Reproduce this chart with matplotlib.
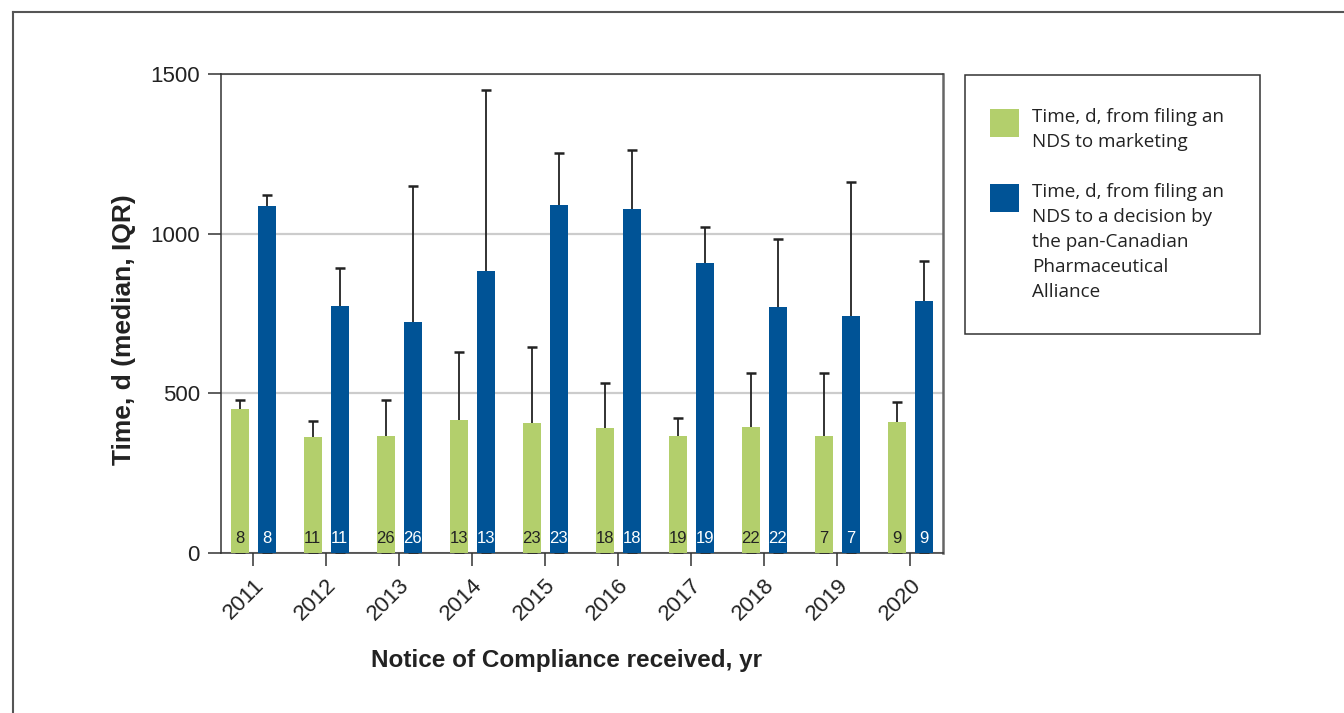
import numpy as np
import matplotlib
matplotlib.use("Agg")
from matplotlib import pyplot as plt
from matplotlib.patches import Rectangle
from matplotlib.lines import Line2D
from matplotlib.transforms import ScaledTranslation

plt.rcParams['font.family'] = ['Liberation Sans', 'DejaVu Sans']

# 中位数与上四分位数（天）
years = ["2011", "2012", "2013", "2014", "2015", "2016", "2017", "2018", "2019", "2020"]
n_drugs = [8, 11, 26, 13, 23, 18, 19, 22, 7, 9]
market_median = [450, 362, 367, 416, 407, 391, 365, 395, 365, 411]
market_q3 = [480, 413, 478, 629, 645, 532, 423, 563, 565, 473]
pcpa_median = [1087, 773, 723, 883, 1089, 1076, 907, 771, 742, 789]
pcpa_q3 = [1122, 893, 1149, 1450, 1254, 1263, 1020, 983, 1162, 915]

labels = ["Time, d, from filing an\nNDS to marketing",
          "Time, d, from filing an\nNDS to a decision by\nthe pan-Canadian\nPharmaceutical\nAlliance"]
green = "#b3cf6c"
blue = "#005396"

W, H = 1344, 713
fig = plt.figure(figsize=(W / 100, H / 100), dpi=100)
ax = fig.add_axes([221 / W, 1 - 553 / H, (943 - 221) / W, (553 - 74) / H])

x = np.arange(len(years))
w = 0.247
off = 0.185

for xs, med, q3, col in [(x - off, market_median, market_q3, green),
                         (x + off, pcpa_median, pcpa_q3, blue)]:
    med = np.array(med)
    q3 = np.array(q3)
    ax.bar(xs, med, width=w, color=col, zorder=3)
    # 误差线从0画起，被柱子盖住，只露出上半段
    ax.errorbar(xs, med, yerr=[med, q3 - med], fmt="none", ecolor="#222222",
                elinewidth=1.3, capsize=3.6, capthick=1.8, zorder=2)

# 柱底的样本数
tr = ax.get_xaxis_transform()
for i, n in enumerate(n_drugs):
    ax.text(x[i] - off, 0.031, str(n), transform=tr, ha="center", va="center",
            fontsize=12, color="#222222", zorder=4)
    ax.text(x[i] + off, 0.031, str(n), transform=tr, ha="center", va="center",
            fontsize=12, color="white", zorder=4)

ax.set_xlim(-0.44, 9.45)
ax.set_ylim(0, 1500)
ax.set_yticks([0, 500, 1000, 1500])
ax.set_xticks(x)
ax.set_xticklabels(years, rotation=45, ha="right", va="top", rotation_mode="anchor")
for lbl in ax.get_xticklabels():
    lbl.set_transform(lbl.get_transform() + ScaledTranslation(7 / 100, 0, fig.dpi_scale_trans))
ax.tick_params(axis="both", length=9.4, width=1.1, color="#333333",
               labelsize=16, labelcolor="#222222")
ax.tick_params(axis="y", pad=5.8)
ax.tick_params(axis="x", pad=6.5)
ax.yaxis.grid(True, color="#cccccc", linewidth=1.6, zorder=0)
ax.set_axisbelow(True)
for s in ax.spines.values():
    s.set_color("#333333")
    s.set_linewidth(1.1)
ax.spines["right"].set_color("#666666")
ax.spines["right"].set_linewidth(1.8)

ax.set_ylabel("Time, d (median, IQR)", fontsize=19, fontweight="bold", color="#222222")
ax.yaxis.set_label_coords(-0.118, 0.466)
ax.set_xlabel("Notice of Compliance received, yr", fontsize=17.5, fontweight="bold", color="#222222")
ax.xaxis.set_label_coords(0.479, -0.2)

# 图例框
fig.add_artist(Rectangle((965 / W, 1 - 334 / H), 295 / W, 259 / H, transform=fig.transFigure,
                         facecolor="none", edgecolor="#333333", linewidth=1.1))
for top, col, lab in [(109, green, labels[0]), (184, blue, labels[1])]:
    fig.add_artist(Rectangle((990 / W, 1 - (top + 28) / H), 29 / W, 28 / H,
                             transform=fig.transFigure, facecolor=col, edgecolor="none"))
    fig.text(1032 / W, 1 - (top - 1) / H, lab, ha="left", va="top", fontsize=13.6,
             family=["Open Sans", "DejaVu Sans"], color="#222222", linespacing=1.5)

# 外框
fig.add_artist(Line2D([13 / W, 13 / W], [0, 1 - 12 / H], transform=fig.transFigure,
                      color="#555555", linewidth=1.5))
fig.add_artist(Line2D([13 / W, 1], [1 - 12 / H, 1 - 12 / H], transform=fig.transFigure,
                      color="#555555", linewidth=1.5))

fig.savefig("out.png", dpi=100)
